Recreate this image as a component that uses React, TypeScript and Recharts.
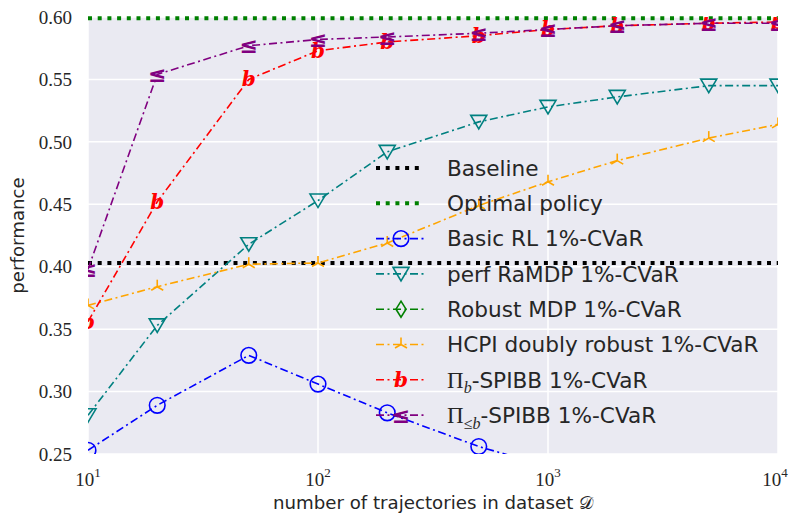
import React from 'react';
import { LineChart, Line, XAxis, YAxis, CartesianGrid, ReferenceLine } from 'recharts';

// dataset sizes (log axis)
const sizes = [10, 20, 50, 100, 200, 500, 1000, 2000, 5000, 10000];

const basicRL = [0.253, 0.289, 0.329, 0.306, 0.283, 0.256, 0.24, 0.232, 0.224, 0.218];
const perfRaMDP = [0.281, 0.353, 0.418, 0.453, 0.492, 0.516, 0.528, 0.536, 0.545, 0.545];
const robustMDP = [0.13, 0.15, 0.17, 0.19, 0.2, 0.21, 0.22, 0.225, 0.23, 0.235];
const hcpi = [0.369, 0.384, 0.402, 0.403, 0.419, 0.449, 0.468, 0.485, 0.503, 0.514];
const pibSpibb = [0.356, 0.452, 0.55, 0.573, 0.58, 0.585, 0.59, 0.593, 0.595, 0.596];
const pilebSpibb = [0.398, 0.554, 0.577, 0.582, 0.584, 0.587, 0.59, 0.593, 0.595, 0.595];

const baseline = 0.403;
const optimal = 0.599;

const yTicks = [0.25, 0.3, 0.35, 0.4, 0.45, 0.5, 0.55, 0.6];
const xTicks = [10, 100, 1000, 10000];

const data = sizes.map((n, i) => ({
    n,
    basic: basicRL[i],
    perf: perfRaMDP[i],
    robust: robustMDP[i],
    hcpi: hcpi[i],
    pib: pibSpibb[i],
    pileb: pilebSpibb[i],
}));

const DASHDOT = '8 3.5 2 3.5';
const TXT = '#262626';
const SANS = '"DejaVu Sans", sans-serif';
const SERIF = '"Liberation Serif", serif';

// marker shapes
const Circle = (color: string) => (p: any) => (
    <circle key={p.key} cx={p.cx} cy={p.cy} r={7.8} fill="none" stroke={color} strokeWidth={1.6} />
);
const TriDown = (color: string) => (p: any) => (
    <polygon key={p.key} points={`${p.cx - 8},${p.cy - 6.5} ${p.cx + 8},${p.cy - 6.5} ${p.cx},${p.cy + 7}`}
        fill="none" stroke={color} strokeWidth={1.6} />
);
const Diamond = (color: string) => (p: any) => (
    <polygon key={p.key} points={`${p.cx},${p.cy - 8} ${p.cx + 5},${p.cy} ${p.cx},${p.cy + 8} ${p.cx - 5},${p.cy}`}
        fill="none" stroke={color} strokeWidth={1.6} />
);
const TriUp = (color: string) => (p: any) => (
    <g key={p.key} stroke={color} strokeWidth={1.6}>
        <line x1={p.cx} y1={p.cy} x2={p.cx} y2={p.cy - 7} />
        <line x1={p.cx} y1={p.cy} x2={p.cx - 6} y2={p.cy + 3.5} />
        <line x1={p.cx} y1={p.cy} x2={p.cx + 6} y2={p.cy + 3.5} />
    </g>
);
// mathtext-style glyph markers ($b$ and $\leq$)
const Glyph = (color: string, ch: string, size: number, family: string, italic: boolean) => (p: any) => (
    <text key={p.key} x={p.cx} y={p.cy} dy="0.35em" textAnchor="middle" fill={color}
        fontSize={size} fontFamily={family} fontStyle={italic ? 'italic' : 'normal'} fontWeight="bold">{ch}</text>
);

const series = [
    { key: 'basic', color: '#0000ff', dot: Circle('#0000ff') },
    { key: 'perf', color: '#008080', dot: TriDown('#008080') },
    { key: 'robust', color: '#008000', dot: Diamond('#008000') },
    { key: 'hcpi', color: '#ffa500', dot: TriUp('#ffa500') },
    { key: 'pib', color: '#ff0000', dot: Glyph('#ff0000', 'b', 20, '"DejaVu Serif", serif', true) },
    { key: 'pileb', color: '#800080', dot: Glyph('#800080', '≤', 22, SANS, false) },
];

const YTick = (p: any) => (
    <text x={p.x - 14} y={p.y} dy="0.35em" textAnchor="end" fill={TXT} fontSize={19} fontFamily={SERIF}>
        {Number(p.payload.value).toFixed(2)}
    </text>
);

const XTick = (p: any) => {
    const exp = Math.round(Math.log10(p.payload.value));
    return (
        <text x={p.x} y={p.y + 30} textAnchor="middle" fill={TXT} fontFamily={SERIF} fontSize={19}>
            10<tspan fontSize={13} dy={-9}>{exp}</tspan>
        </text>
    );
};

const legendRows = [
    { label: <tspan>Baseline</tspan>, color: '#000', dotted: true },
    { label: <tspan>Optimal policy</tspan>, color: '#008000', dotted: true },
    { label: <tspan>Basic RL 1%-CVaR</tspan>, s: 0 },
    { label: <tspan>perf RaMDP 1%-CVaR</tspan>, s: 1 },
    { label: <tspan>Robust MDP 1%-CVaR</tspan>, s: 2 },
    { label: <tspan>HCPI doubly robust 1%-CVaR</tspan>, s: 3 },
    {
        label: (
            <>
                <tspan fontFamily={SERIF} fontSize={23}>Π</tspan>
                <tspan fontFamily={SERIF} fontStyle="italic" fontSize={16} dy={5}>b</tspan>
                <tspan dy={-5}>-SPIBB 1%-CVaR</tspan>
            </>
        ), s: 4,
    },
    {
        label: (
            <>
                <tspan fontFamily={SERIF} fontSize={23}>Π</tspan>
                <tspan fontFamily={SERIF} fontSize={16} dy={6}>≤</tspan>
                <tspan fontFamily={SERIF} fontStyle="italic" fontSize={16}>b</tspan>
                <tspan dy={-6}>-SPIBB 1%-CVaR</tspan>
            </>
        ), s: 5,
    },
];

const Legend = () => (
    <svg width={795} height={514} style={{ position: 'absolute', left: 0, top: 0, pointerEvents: 'none' }}>
        {legendRows.map((r: any, i) => {
            const y = 168 + i * 35.3;
            const s = r.s !== undefined ? series[r.s] : null;
            return (
                <g key={i}>
                    {r.dotted ? (
                        <line x1={376} x2={424} y1={y} y2={y} stroke={r.color} strokeWidth={4} strokeDasharray="4 5.7" />
                    ) : (
                        <>
                            <line x1={376} x2={426} y1={y} y2={y} stroke={s!.color} strokeWidth={1.6} strokeDasharray={DASHDOT} />
                            {s!.dot({ cx: 401, cy: y, key: 'm' })}
                        </>
                    )}
                    <text x={447} y={y} dy="0.36em" fill={TXT} fontSize={21.6} fontFamily={SANS}>{r.label}</text>
                </g>
            );
        })}
    </svg>
);

const App = () => {
    return (
        <div style={{ position: 'absolute', left: 0, top: 0, width: 795, height: 514, background: '#fff' }}>
            <LineChart width={795} height={514} data={data} margin={{ top: 17, right: 17, bottom: 0, left: 0 }}>
                <CartesianGrid fill="#EAEAF2" stroke="#ffffff" strokeWidth={1.5} />
                <XAxis dataKey="n" type="number" scale="log" domain={[10, 10000]} ticks={xTicks} allowDataOverflow
                    axisLine={false} tickLine={false} tickSize={0} height={60} tick={<XTick />}
                    label={{ value: 'number of trajectories in dataset 𝒟', position: 'insideBottom', offset: 5, fill: TXT, fontSize: 18.2, fontFamily: SANS }} />
                <YAxis type="number" domain={[0.25, 0.6]} ticks={yTicks} allowDataOverflow width={88}
                    axisLine={false} tickLine={false} tickSize={0} tick={<YTick />}
                    label={{ value: 'performance', angle: -90, position: 'insideLeft', offset: 18, fill: TXT, fontSize: 18.2, fontFamily: SANS, style: { textAnchor: 'middle' } }} />
                <ReferenceLine y={baseline} stroke="#000" strokeWidth={4} strokeDasharray="4 5.7" />
                <ReferenceLine y={optimal} stroke="#008000" strokeWidth={4} strokeDasharray="4 5.7" />
                {series.map(s => (
                    <Line key={s.key} dataKey={s.key} stroke={s.color} strokeWidth={1.6} strokeDasharray={DASHDOT}
                        dot={s.dot} activeDot={false} isAnimationActive={false} />
                ))}
            </LineChart>
            <Legend />
        </div>
    );
};

export default App;
